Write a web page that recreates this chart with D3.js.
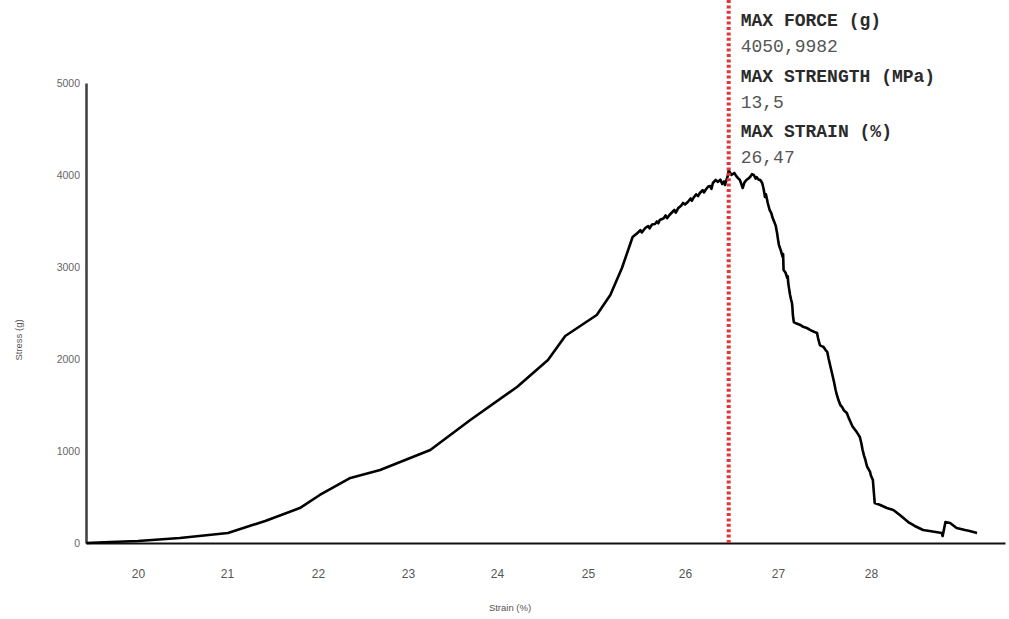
<!DOCTYPE html>
<html>
<head>
<meta charset="utf-8">
<script src="https://cdn.jsdelivr.net/npm/d3@7"></script>
<style>
  html, body { margin: 0; padding: 0; background: #fff; }
  svg { display: block; }
</style>
</head>
<body>
<svg id="chart" width="1009" height="619"></svg>
<script>
// Tensile test: stress (g) against strain (%)
const strain = [
  19.42, 19.69, 20.00, 20.47, 21.01, 21.42, 21.80, 22.02, 22.36, 22.69,
  23.25, 23.70, 24.22, 24.56, 24.75, 25.09, 25.23, 25.35, 25.46, 25.51,
  25.54, 25.555, 25.59, 25.62, 25.635, 25.66, 25.69, 25.71, 25.725, 25.74,
  25.78, 25.80, 25.815, 25.84, 25.87, 25.89, 25.905, 25.93, 25.96, 25.98,
  26.00, 26.03, 26.06, 26.075, 26.09, 26.12, 26.14, 26.16, 26.19, 26.205,
  26.22, 26.25, 26.27, 26.285, 26.30, 26.33, 26.355, 26.38, 26.40, 26.42,
  26.43, 26.45, 26.46, 26.47,
  26.50, 26.53, 26.55, 26.57, 26.59, 26.61, 26.62, 26.64, 26.66, 26.68,
  26.70, 26.72, 26.74, 26.76, 26.77, 26.79, 26.81, 26.83, 26.845, 26.86,
  26.87, 26.89, 26.91, 26.93, 26.94, 26.96, 26.975, 26.99, 27.00, 27.01,
  27.03, 27.05, 27.055, 27.06, 27.08, 27.10, 27.105, 27.11, 27.12, 27.13,
  27.14, 27.15, 27.155, 27.16, 27.165, 27.17, 27.20, 27.24, 27.27, 27.31,
  27.34, 27.37, 27.40, 27.42, 27.43, 27.45, 27.47, 27.49, 27.51, 27.53,
  27.545, 27.56, 27.575, 27.59, 27.60, 27.62, 27.63, 27.65, 27.67, 27.69,
  27.71, 27.74, 27.76, 27.78, 27.80, 27.83, 27.85, 27.88, 27.895, 27.91,
  27.925, 27.94, 27.95, 27.96, 27.975, 27.99, 28.00, 28.02, 28.03, 28.04,
  28.10, 28.17, 28.24, 28.31, 28.40, 28.47, 28.56, 28.63, 28.76, 28.77,
  28.80, 28.85, 28.92, 29.01, 29.06, 29.14
];
const stress = [
  0, 11, 22, 54, 109, 239, 380, 522, 707, 793,
  1011, 1337, 1696, 1989, 2250, 2478, 2696, 2989, 3326, 3370,
  3400, 3375, 3424, 3445, 3420, 3462, 3467, 3495, 3475, 3511,
  3530, 3560, 3530, 3565, 3598, 3620, 3590, 3640, 3665, 3696,
  3680, 3707, 3745, 3720, 3750, 3790, 3770, 3804, 3835, 3810,
  3837, 3875, 3880, 3850, 3913, 3946, 3925, 3950, 3902, 3930,
  3891, 3960, 3989, 4051,
  4000, 4022, 3990, 3967, 3946, 3890, 3859, 3920, 3946, 3960,
  3978, 4010, 4000, 3960, 3978, 3950, 3946, 3913, 3850, 3761,
  3790, 3696, 3620, 3580, 3540, 3489, 3450, 3370, 3300, 3239,
  3180, 3109, 3140, 2967, 2940, 2880, 2900, 2826, 2760, 2696,
  2650, 2609, 2560, 2478, 2440, 2402, 2385, 2370, 2350, 2337,
  2320, 2304, 2290, 2283, 2230, 2152, 2140, 2130, 2100, 2076,
  2000, 1935, 1870, 1804, 1760, 1663, 1620, 1554, 1500, 1478,
  1440, 1413, 1360, 1315, 1270, 1228, 1200, 1152, 1090, 1011,
  950, 902, 860, 826, 800, 772, 730, 685, 560, 435,
  413, 380, 359, 304, 228, 185, 141, 130, 109, 76,
  228, 217, 163, 141, 130, 109
];

// Axis ticks
const xTicks = [20, 21, 22, 23, 24, 25, 26, 27, 28];
const yTicks = [0, 1000, 2000, 3000, 4000, 5000];

// Peak summary
const summaryTitles = ["MAX FORCE (g)", "MAX STRENGTH (MPa)", "MAX STRAIN (%)"];
const summaryValues = ["4050,9982", "13,5", "26,47"];
const peakStrain = 26.47;

const svg = d3.select("#chart");

// The recorded strain axis is stretched slightly toward the break, so the
// scale is piecewise across the integer ticks.
const x = d3.scaleLinear()
  .domain([19.416, 20, 21, 22, 23, 24, 25, 26, 27, 28, 29.44])
  .range([86, 138, 227, 318, 408, 497, 588, 685, 778, 871, 1005]);

const y = d3.scaleLinear().domain([0, 5000]).range([543, 83]);

// y axis
const yAxis = d3.axisLeft(y).tickValues(yTicks).tickSize(0).tickPadding(6)
  .tickFormat(d3.format("d"));
const gy = svg.append("g").attr("transform", `translate(${x.range()[0]},0)`).call(yAxis);
gy.select(".domain").attr("stroke", "#444").attr("stroke-width", 2.6);
gy.selectAll("text").attr("fill", "#666").attr("font-family", "Liberation Sans, Arial, sans-serif")
  .attr("font-size", 10.5);

// x axis
const xAxis = d3.axisBottom(x).tickValues(xTicks).tickSize(0).tickPadding(26)
  .tickFormat(d3.format("d"));
const gx = svg.append("g").attr("transform", `translate(0,${y(0)})`).call(xAxis);
gx.select(".domain").attr("stroke", "#111").attr("stroke-width", 2.2);
gx.selectAll("text").attr("fill", "#555").attr("font-family", "Liberation Sans, Arial, sans-serif")
  .attr("font-size", 12);

// axis titles
svg.append("text")
  .attr("x", 510).attr("y", 611)
  .attr("text-anchor", "middle")
  .attr("font-family", "Liberation Sans, Arial, sans-serif")
  .attr("font-size", 9.5).attr("fill", "#555")
  .text("Strain (%)");

svg.append("text")
  .attr("transform", "translate(22,340) rotate(-90)")
  .attr("text-anchor", "middle")
  .attr("font-family", "Liberation Sans, Arial, sans-serif")
  .attr("font-size", 9.5).attr("fill", "#555")
  .text("Stress (g)");

// stress–strain curve
const line = d3.line().x((d, i) => x(strain[i])).y(d => y(d));
svg.append("path")
  .datum(stress)
  .attr("fill", "none")
  .attr("stroke", "#000")
  .attr("stroke-width", 2.6)
  .attr("stroke-linejoin", "round")
  .attr("d", line);

// marker at the peak strain
svg.append("line")
  .attr("x1", x(peakStrain)).attr("x2", x(peakStrain))
  .attr("y1", 0).attr("y2", y(0))
  .attr("stroke", "#e2363b")
  .attr("stroke-width", 4)
  .attr("stroke-dasharray", "3,2.4");

// peak summary block
const block = svg.append("g")
  .attr("font-family", "Liberation Mono, DejaVu Sans Mono, monospace")
  .attr("font-size", 18);
summaryTitles.forEach((t, i) => {
  block.append("text")
    .attr("x", x(peakStrain) + 12).attr("y", 26 + i * 55.5)
    .attr("font-weight", "bold").attr("fill", "#2a2a2a")
    .text(t);
  block.append("text")
    .attr("x", x(peakStrain) + 12).attr("y", 52 + i * 55.5)
    .attr("fill", "#555")
    .text(summaryValues[i]);
});
</script>
</body>
</html>
